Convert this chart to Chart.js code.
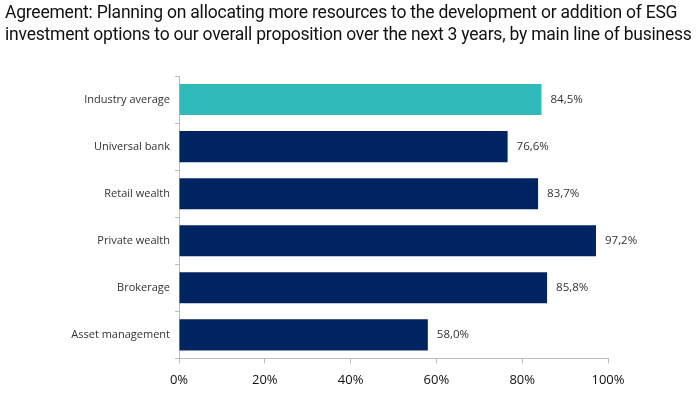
<!DOCTYPE html>
<html>
<head>
<meta charset="utf-8">
<script src="https://cdn.jsdelivr.net/npm/chart.js@4/dist/chart.umd.min.js"></script>
<style>
  html, body { margin: 0; padding: 0; background: #fff; }
  #box { position: relative; width: 700px; height: 397px; }
  #title { position: absolute; left: 5px; top: 1px; font: 17.5px Roboto, sans-serif; letter-spacing: -0.22px; line-height: 22px; color: #111; white-space: nowrap; }
  canvas { position: absolute; left: 0; top: 0; }
</style>
</head>
<body>
<div id="box">
  <canvas id="chart" width="700" height="397"></canvas>
  <div id="title">Agreement: Planning on allocating more resources to the development or addition of ESG<br>investment options to our overall proposition over the next 3 years, by main line of business</div>
</div>
<script>
// chart data
const categories = ['Industry average', 'Universal bank', 'Retail wealth', 'Private wealth', 'Brokerage', 'Asset management'];
const agreement = [84.5, 76.6, 83.7, 97.2, 85.8, 58.0];
const barColors = ['#2fb9b9', '#002462', '#002462', '#002462', '#002462', '#002462'];

// value labels at bar ends, comma decimal
const valueLabels = {
  id: 'valueLabels',
  afterDatasetsDraw(chart) {
    const ctx = chart.ctx;
    const meta = chart.getDatasetMeta(0);
    ctx.save();
    ctx.font = '11.5px "Open Sans", sans-serif';
    ctx.fillStyle = '#333';
    ctx.textBaseline = 'middle';
    meta.data.forEach((bar, i) => {
      const txt = agreement[i].toFixed(1).replace('.', ',') + '%';
      ctx.fillText(txt, bar.x + 9, bar.y);
    });
    ctx.restore();
  }
};

new Chart(document.getElementById('chart'), {
  type: 'bar',
  data: {
    labels: categories,
    datasets: [{
      data: agreement,
      backgroundColor: barColors,
      barPercentage: 0.66,
      categoryPercentage: 1
    }]
  },
  options: {
    indexAxis: 'y',
    responsive: false,
    animation: false,
    layout: { padding: { left: 0, right: 92, top: 76, bottom: 0 } },
    plugins: {
      legend: { display: false },
      tooltip: { enabled: false },
      title: { display: false }
    },
    scales: {
      x: {
        min: 0,
        max: 100,
        ticks: {
          stepSize: 20,
          color: '#111',
          font: { family: '"Open Sans", sans-serif', size: 13 },
          padding: 9,
          callback: v => v + '%'
        },
        grid: { drawOnChartArea: false, drawTicks: true, tickLength: 5, color: '#bbb' },
        border: { color: '#bbb' }
      },
      y: {
        afterFit(scale) { scale.width = 179; },
        ticks: {
          color: '#333',
          font: { family: '"Open Sans", sans-serif', size: 11 },
          padding: 5
        },
        grid: { drawOnChartArea: false, drawTicks: true, tickLength: 4, color: '#bbb', offset: true },
        border: { color: '#bbb' }
      }
    }
  },
  plugins: [valueLabels]
});
</script>
</body>
</html>
